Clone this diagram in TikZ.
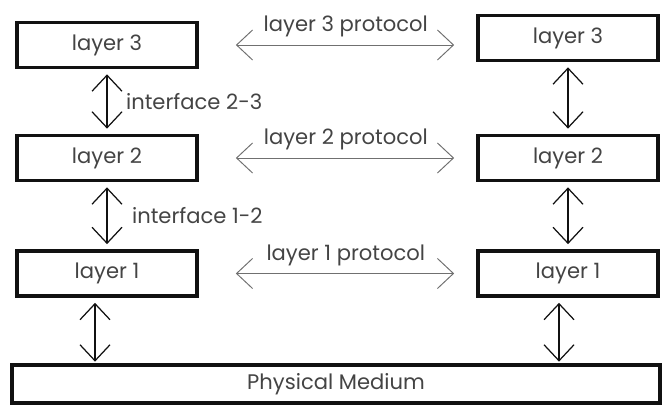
\documentclass[tikz,border=0pt]{standalone}
\usepackage{fontspec}
\setmainfont{Poppins}
\usetikzlibrary{arrows.meta,positioning}
\definecolor{osInk}{HTML}{111111}
\definecolor{osText}{HTML}{444444}
\definecolor{osGrey}{HTML}{707070}
\tikzset{
  layerbox/.style={draw=osInk,line width=2.1pt,fill=white,text=osText,
    font=\fontsize{12}{14}\selectfont,minimum width=3.6cm,minimum height=.9cm,inner sep=0pt},
  medium/.style={layerbox,minimum width=12.96cm,minimum height=.76cm},
  iface/.style={{Straight Barb[length=3.2mm,width=6mm]}-{Straight Barb[length=3.2mm,width=6mm]},
    draw=osInk,line width=.7pt,shorten <=1mm,shorten >=1mm},
  peer/.style={iface,draw=osGrey,line width=.55pt,shorten <=7.4mm,shorten >=4.4mm},
  note/.style={font=\fontsize{12}{14}\selectfont,text=osText,inner sep=2pt},
}
\begin{document}
\begin{tikzpicture}[x=1cm,y=1cm]
  \useasboundingbox (0,0) rectangle (13.26,8.12);
  \node[layerbox] (l3) at (2.14,7.22) {layer 3};
  \node[layerbox] (l2) at (2.14,4.96) {layer 2};
  \node[layerbox] (l1) at (2.14,2.65) {layer 1};
  \node[layerbox] (r3) at (11.36,7.36) {layer 3};
  \node[layerbox] (r2) at (11.36,4.96) {layer 2};
  \node[layerbox] (r1) at (11.36,2.65) {layer 1};
  \node[medium] (phys) at (6.72,.44) {Physical Medium};
  \draw[peer] (l3.east) -- node[note,above=2pt,pos=.53] {layer 3 protocol} (l3.east -| r3.west);
  \draw[peer] (l2.east) -- node[note,above=2pt,pos=.53] {layer 2 protocol} (l2.east -| r2.west);
  \draw[peer] (l1.east) -- node[note,above=2pt,pos=.53] {layer 1 protocol} (l1.east -| r1.west);
  \draw[iface] (l3.south) -- node[note,right=.3cm] {interface 2-3} (l2.north);
  \draw[iface] (l2.south) -- node[note,right=.42cm] {interface 1-2} (l1.north);
  \draw[iface] (r3.south) -- (r2.north);
  \draw[iface] (r2.south) -- (r1.north);
  \coordinate (lfoot) at ([xshift=-2.4mm]l1.south);
  \coordinate (rfoot) at ([xshift=-1.8mm]r1.south);
  \draw[iface,shorten >=.3mm] (lfoot) -- (lfoot |- phys.north);
  \draw[iface,shorten >=.3mm] (rfoot) -- (rfoot |- phys.north);
\end{tikzpicture}
\end{document}
